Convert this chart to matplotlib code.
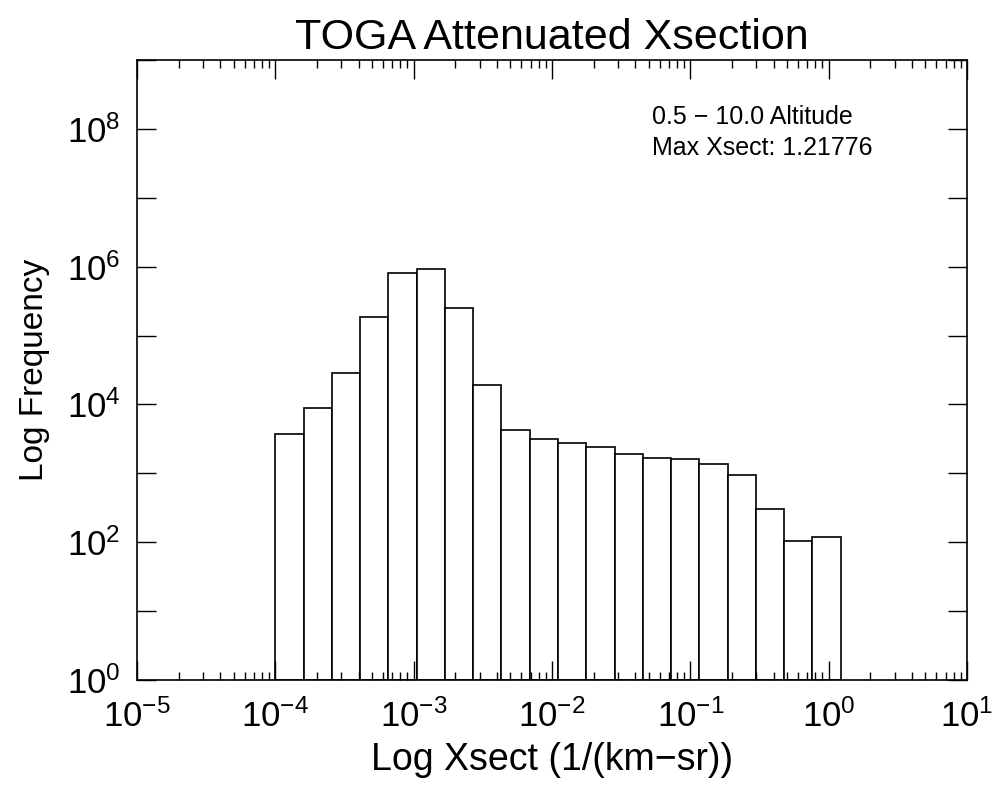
import numpy as np
import matplotlib
matplotlib.use("Agg")
from matplotlib import pyplot as plt
from matplotlib import ticker

plt.rcParams['font.family'] = ['Liberation Sans', 'DejaVu Sans']
plt.rcParams['mathtext.fontset'] = 'custom'
plt.rcParams['mathtext.rm'] = 'Liberation Sans'
plt.rcParams['mathtext.it'] = 'Liberation Sans'

# histogram of log10 cross-section, 20 bins from 1e-4 to max xsect
max_xsect = 1.21776
n_bins = 20
counts = [3700, 8800, 29000, 186000, 810000, 930000, 250000, 19000, 4200, 3200,
          2800, 2400, 1900, 1650, 1600, 1350, 930, 300, 102, 117]

edges = np.logspace(-4, np.log10(max_xsect), n_bins + 1)
lefts = edges[:-1]
widths = np.diff(edges)

fig = plt.figure(figsize=(9.96, 7.91), dpi=100)
ax = fig.add_axes([0.1376, 0.1403, 0.8334, 0.7838])

ax.bar(lefts, counts, width=widths, align='edge', bottom=1,
       facecolor='white', edgecolor='black', linewidth=1.2)

ax.set_xscale('log')
ax.set_yscale('log')
ax.set_xlim(1e-5, 1e1)
ax.set_ylim(1e0, 1e9)

ax.xaxis.set_major_locator(ticker.LogLocator(base=10, numticks=10))
ax.xaxis.set_minor_locator(ticker.LogLocator(base=10, subs=np.arange(2, 10), numticks=20))
ax.yaxis.set_major_locator(ticker.FixedLocator([10.0**k for k in range(0, 9, 2)]))
ax.yaxis.set_minor_locator(ticker.FixedLocator([10.0**k for k in range(1, 10, 2)]))

def fmt(v, pos):
    return r'$10^{%d}$' % int(round(np.log10(v)))

ax.xaxis.set_major_formatter(ticker.FuncFormatter(fmt))
ax.yaxis.set_major_formatter(ticker.FuncFormatter(fmt))
ax.yaxis.set_minor_formatter(ticker.NullFormatter())

ax.tick_params(which='both', direction='in', top=True, right=True, width=1)
ax.tick_params(which='major', length=14, labelsize=25)
ax.tick_params(axis='x', which='major', pad=14)
ax.tick_params(axis='y', which='major', pad=12)
ax.tick_params(axis='x', which='minor', length=6)
ax.tick_params(axis='y', which='minor', length=14)

for s in ax.spines.values():
    s.set_linewidth(1.2)

ax.set_title('TOGA Attenuated Xsection', fontsize=31, pad=8)
ax.set_xlabel('Log Xsect (1/(km\u2212sr))', fontsize=27, labelpad=6)
ax.set_ylabel('Log Frequency', fontsize=24, labelpad=12)

ax.text(0.62, 0.908, '0.5 \u2212 10.0 Altitude', transform=ax.transAxes,
        fontsize=18, va='center')
ax.text(0.62, 0.858, 'Max Xsect: %.5f' % max_xsect, transform=ax.transAxes,
        fontsize=18, va='center')

fig.savefig('out.png', dpi=100)
